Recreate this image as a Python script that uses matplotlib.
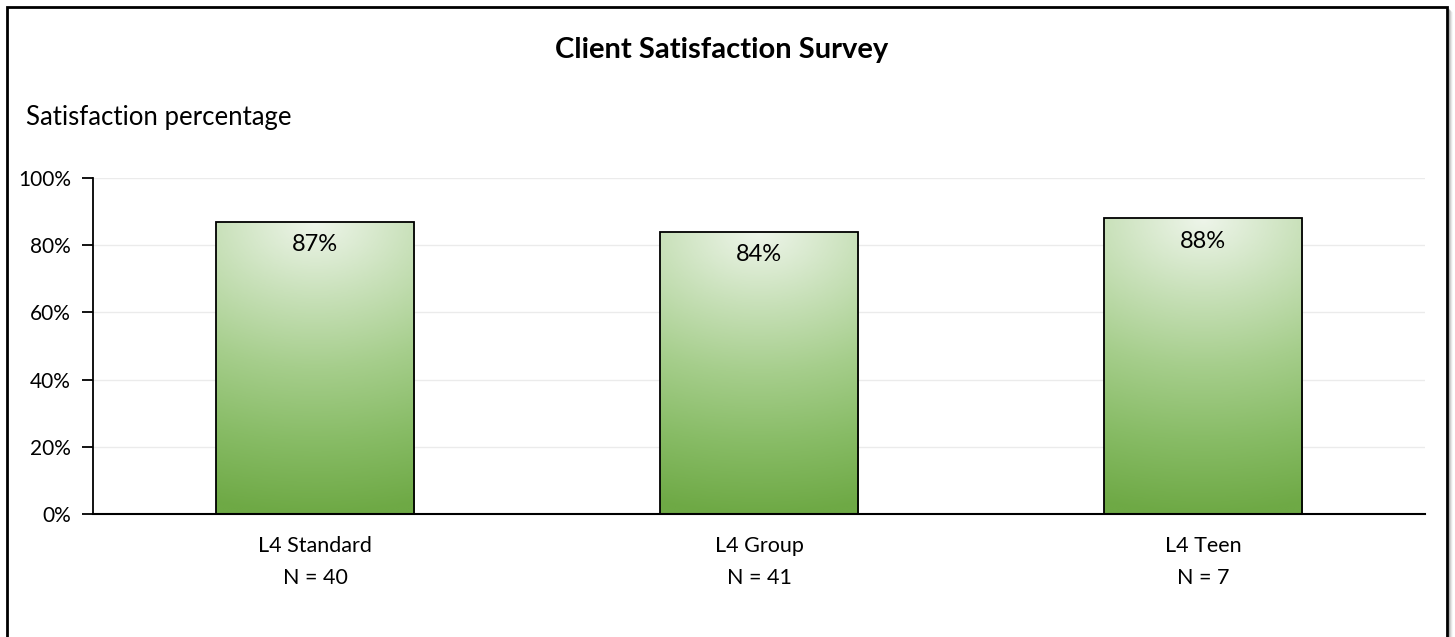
import numpy as np
import matplotlib
matplotlib.use("Agg")
import matplotlib.pyplot as plt
from matplotlib.patches import Rectangle
from matplotlib.colors import LinearSegmentedColormap
from matplotlib.ticker import PercentFormatter

plt.rcParams['font.family'] = ['Lato', 'DejaVu Sans']

categories = ["L4 Standard", "L4 Group", "L4 Teen"]
sample_sizes = [40, 41, 7]
satisfaction = [0.87, 0.84, 0.88]
y_ticks = [0, 0.2, 0.4, 0.6, 0.8, 1.0]

W, H = 1455, 637
fig = plt.figure(figsize=(W / 100, H / 100), dpi=100)

# outer frame with a soft shadow on the right
for i, a in enumerate([0.25, 0.15, 0.08, 0.04]):
    fig.add_artist(plt.Line2D([(1449 + i) / W] * 2, [-0.1, (H - 10 - i) / H],
                              transform=fig.transFigure, color='black', alpha=a, lw=1.2))
fig.add_artist(Rectangle((7 / W, -0.1), (1447 - 7) / W, (H - 7) / H + 0.1,
                         transform=fig.transFigure, fill=False, ec='black', lw=2))

ax = fig.add_axes([93 / W, (H - 514) / H, (1425 - 93) / W, (514 - 178) / H])
x = np.arange(len(categories))
width = 0.446

cmap = LinearSegmentedColormap.from_list(
    'grn', ['#EEF5EA', '#C9E1BA', '#A6CE8C', '#88BC66', '#6EA945'])

bars = ax.bar(x, satisfaction, width=width, color='none', edgecolor='black',
              linewidth=1.3, zorder=3)

ny, nx = 200, 100
yy, xx = np.mgrid[0:1:ny * 1j, -0.5:0.5:nx * 1j]
for b, v in zip(bars, satisfaction):
    # radial-ish gradient: light near top centre, deep green at the base
    d = np.sqrt((xx * 0.5) ** 2 + (1 - yy) ** 2)
    d = np.clip(d, 0, 1)
    x0 = b.get_x()
    im = ax.imshow(d, cmap=cmap, origin='lower', aspect='auto',
                   extent=[x0, x0 + b.get_width(), 0, v], zorder=2,
                   interpolation='bilinear', vmin=0, vmax=1)
    im.set_clip_path(b)
    ax.text(b.get_x() + b.get_width() / 2, v - 0.068, f"{v:.0%}",
            ha='center', va='center', fontsize=17, color='black', zorder=4)

ax.set_xlim(-0.5, len(categories) - 0.5)
ax.set_ylim(0, 1)
ax.set_yticks(y_ticks)
ax.yaxis.set_major_formatter(PercentFormatter(1.0, decimals=0))
ax.set_xticks(x)
ax.set_xticklabels([f"{c}\nN = {n}" for c, n in zip(categories, sample_sizes)],
                   fontsize=15.5, linespacing=1.75)
ax.tick_params(axis='x', length=0, pad=16)
ax.tick_params(axis='y', length=8, width=1.3, color='black', labelsize=15, pad=8,
               direction='out')
ax.grid(axis='y', color='#EBEBEB', lw=1, zorder=0)
ax.set_axisbelow(True)
for s in ['top', 'right']:
    ax.spines[s].set_visible(False)
ax.spines['left'].set_linewidth(1.3)
ax.spines['bottom'].set_linewidth(1.5)

fig.text(722 / W, 1 - 50 / H, "Client Satisfaction Survey", ha='center', va='center',
         fontsize=21, fontweight='bold')
fig.text(26 / W, 1 - 117 / H, "Satisfaction percentage", ha='left', va='center',
         fontsize=18.5)

fig.savefig("out.png", dpi=100)
